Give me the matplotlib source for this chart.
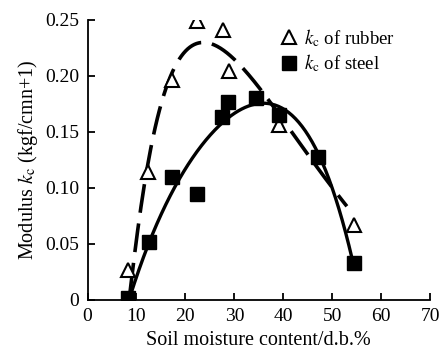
import numpy as np
import matplotlib
matplotlib.use('Agg')
import matplotlib.pyplot as plt

plt.rcParams['font.family'] = 'Liberation Serif'
plt.rcParams['mathtext.fontset'] = 'stix'

# measured points
rub_x = [8.3, 12.4, 17.3, 22.4, 27.7, 28.9, 39.2, 54.5]
rub_y = [0.027, 0.114, 0.196, 0.249, 0.241, 0.204, 0.156, 0.067]
stl_x = [8.3, 12.6, 17.3, 22.4, 27.5, 28.8, 34.5, 39.2, 47.1, 54.5]
stl_y = [0.002, 0.052, 0.110, 0.095, 0.163, 0.177, 0.180, 0.165, 0.128, 0.033]

# trend curves
rub_cx = [8.7, 10.1, 11.4, 13.2, 14.2, 15.8, 17.5, 22.4, 26.1, 31.6, 33.8, 36.7, 40.4, 45.5, 48.6, 51.6, 53.0]
rub_cy = [0.005, 0.064, 0.096, 0.134, 0.161, 0.1875, 0.207, 0.230, 0.229, 0.205, 0.194, 0.179, 0.162, 0.128, 0.107, 0.092, 0.083]
stl_cx = [8.7, 11.3, 13.4, 18.3, 21.4, 25.0, 29.1, 32.6, 36.7, 40.8, 46.9, 49.0, 54.1]
stl_cy = [0.0, 0.040, 0.0625, 0.103, 0.125, 0.146, 0.162, 0.174, 0.177, 0.170, 0.134, 0.107, 0.038]

fig = plt.figure(figsize=(4.42, 3.55), dpi=100)
ax = fig.add_axes([0.198, 0.155, 0.775, 0.789])

# smooth the hand-drawn trend lines with a polynomial fit
xr = np.linspace(rub_cx[0], rub_cx[-1], 200)
pr = np.polyfit(np.log(rub_cx), rub_cy, 4)
ax.plot(xr, np.polyval(pr, np.log(xr)), color='black', lw=2.6, dashes=(8, 3))
xs = np.linspace(stl_cx[0], stl_cx[-1], 200)
ps = np.polyfit(stl_cx, stl_cy, 4)
ax.plot(xs, np.polyval(ps, xs), color='black', lw=2.4)

ax.plot(rub_x, rub_y, ls='none', marker='^', ms=10, mfc='white', mec='black', mew=1.5,
        label=r'$k_{\mathrm{c}}$ of rubber')
ax.plot(stl_x, stl_y, ls='none', marker='s', ms=10, mfc='black', mec='black',
        label=r'$k_{\mathrm{c}}$ of steel')

ax.set_xlim(0, 70)
ax.set_ylim(0, 0.25)
ax.set_xticks(range(0, 71, 10))
ax.set_yticks([0, 0.05, 0.10, 0.15, 0.20, 0.25])
ax.set_yticklabels(['0', '0.05', '0.10', '0.15', '0.20', '0.25'])
ax.spines['top'].set_visible(False)
ax.spines['right'].set_visible(False)
ax.spines['left'].set_linewidth(1.3)
ax.spines['bottom'].set_linewidth(1.3)
ax.tick_params(direction='in', length=5, width=1.3, labelsize=14, pad=6)
ax.set_xlabel('Soil moisture content/d.b.%', fontsize=14.5, labelpad=4)
ax.set_ylabel(r'Modulus $k_{\mathrm{c}}$ (kgf/cmn+1)', fontsize=14.5, labelpad=4)

ax.legend(loc='upper right', bbox_to_anchor=(0.93, 1.015), frameon=False, fontsize=13.5,
          handlelength=0.8, handletextpad=0.4, labelspacing=0.2, borderaxespad=0.2)

fig.savefig('out.png', dpi=100)
